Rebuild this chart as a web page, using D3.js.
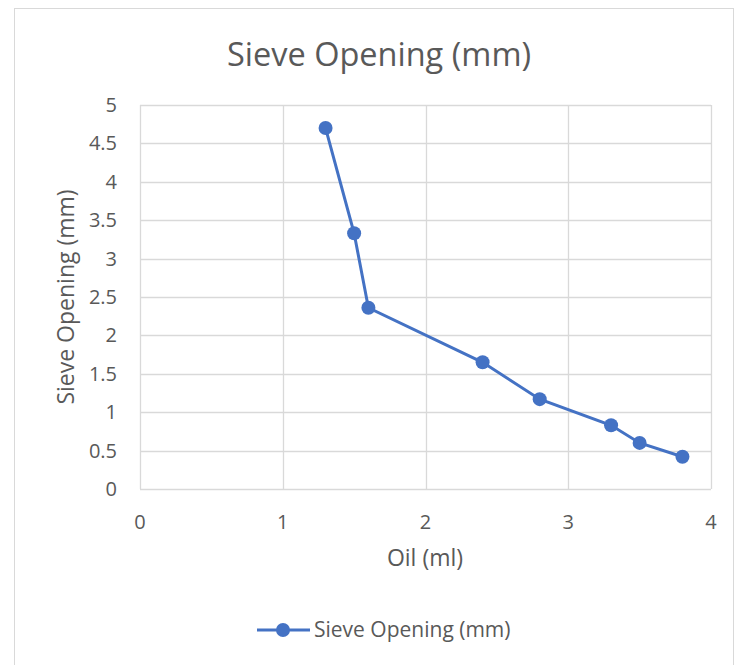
<!DOCTYPE html>
<html>
<head>
<meta charset="utf-8">
<script src="https://cdn.jsdelivr.net/npm/d3@7"></script>
<style>
  body { margin: 0; background: #fff; }
  text { font-family: "Open Sans", sans-serif; fill: #595959; }
</style>
</head>
<body>
<script>
var w = 746,
    h = 665;

// Data
var oil = [1.3, 1.5, 1.6, 2.4, 2.8, 3.3, 3.5, 3.8];
var sieve = [4.7, 3.33, 2.36, 1.65, 1.17, 0.83, 0.6, 0.42];
var xTicks = [0, 1, 2, 3, 4];
var yTicks = [0, 0.5, 1, 1.5, 2, 2.5, 3, 3.5, 4, 4.5, 5];
var seriesName = 'Sieve Opening (mm)';

var points = oil.map(function(d, i) { return {x: d, y: sieve[i]}; });

var svg = d3.select('body')
            .append('svg')
            .attr('width', w)
            .attr('height', h);

// chart border
svg.append('rect')
   .attr('x', 14.5)
   .attr('y', 8.5)
   .attr('width', 719)
   .attr('height', 680)
   .style('fill', 'none')
   .style('stroke', '#d9d9d9');

var x = d3.scaleLinear()
          .domain([0, 4])
          .range([140, 711]);

var y = d3.scaleLinear()
          .domain([0, 5])
          .range([489, 105]);

// gridlines
svg.append('g')
   .selectAll('line')
   .data(yTicks)
   .enter()
   .append('line')
   .attr('x1', x(0))
   .attr('x2', x(4))
   .attr('y1', function(d) { return Math.round(y(d)) + 0.5; })
   .attr('y2', function(d) { return Math.round(y(d)) + 0.5; })
   .style('stroke', '#d9d9d9')
   .style('stroke-width', 1.3);

svg.append('g')
   .selectAll('line')
   .data(xTicks)
   .enter()
   .append('line')
   .attr('x1', function(d) { return Math.round(x(d)) + 0.5; })
   .attr('x2', function(d) { return Math.round(x(d)) + 0.5; })
   .attr('y1', y(0))
   .attr('y2', y(5))
   .style('stroke', '#d9d9d9')
   .style('stroke-width', 1.3);

// tick labels
svg.append('g')
   .selectAll('text')
   .data(yTicks)
   .enter()
   .append('text')
   .attr('x', 117)
   .attr('y', function(d) { return y(d) + 7; })
   .attr('text-anchor', 'end')
   .style('font-size', '20px')
   .text(function(d) { return d; });

svg.append('g')
   .selectAll('text')
   .data(xTicks)
   .enter()
   .append('text')
   .attr('x', function(d) { return x(d); })
   .attr('y', 529)
   .attr('text-anchor', 'middle')
   .style('font-size', '20px')
   .text(function(d) { return d; });

// titles
svg.append('text')
   .attr('x', 379)
   .attr('y', 66)
   .attr('text-anchor', 'middle')
   .style('font-size', '32.5px')
   .text(seriesName);

svg.append('text')
   .attr('x', 425)
   .attr('y', 566)
   .attr('text-anchor', 'middle')
   .style('font-size', '23px')
   .text('Oil (ml)');

svg.append('text')
   .attr('transform', 'translate(74,' + y(2.5) + ') rotate(-90)')
   .attr('text-anchor', 'middle')
   .style('font-size', '23px')
   .text(seriesName);

// series
var line = d3.line()
             .x(function(d) { return x(d.x); })
             .y(function(d) { return y(d.y); });

svg.append('path')
   .datum(points)
   .attr('d', line)
   .style('fill', 'none')
   .style('stroke', '#4472c4')
   .style('stroke-width', 3);

svg.selectAll('circle.pt')
   .data(points)
   .enter()
   .append('circle')
   .attr('class', 'pt')
   .attr('cx', function(d) { return x(d.x); })
   .attr('cy', function(d) { return y(d.y); })
   .attr('r', 7)
   .style('fill', '#4472c4');

// legend
var legend = svg.append('g');
legend.append('line')
      .attr('x1', 257)
      .attr('x2', 310)
      .attr('y1', 630)
      .attr('y2', 630)
      .style('stroke', '#4472c4')
      .style('stroke-width', 3);
legend.append('circle')
      .attr('cx', 283)
      .attr('cy', 630)
      .attr('r', 7)
      .style('fill', '#4472c4');
legend.append('text')
      .attr('x', 314)
      .attr('y', 637)
      .style('font-size', '21px')
      .text(seriesName);
</script>
</body>
</html>
